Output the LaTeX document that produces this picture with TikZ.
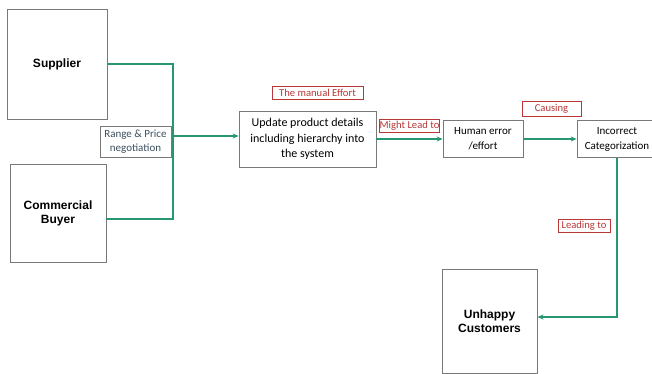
\documentclass[tikz,border=0pt]{standalone}
\usepackage{fontspec}
\setmainfont{Carlito}
\newfontfamily\boxfont{Liberation Sans}
\usetikzlibrary{arrows.meta}
\definecolor{flowgreen}{RGB}{40,150,112}
\definecolor{boxgray}{RGB}{120,120,120}
\definecolor{tagred}{RGB}{185,55,55}
\definecolor{tagslate}{RGB}{60,80,95}
\tikzset{
  actor/.style={draw=boxgray, line width=0.9pt, align=center, inner sep=0pt,
    font=\boxfont\bfseries\fontsize{12}{14}\selectfont},
  stepbox/.style={draw=boxgray, line width=0.7pt, align=center, inner sep=0pt,
    font=\fontsize{11}{15}\selectfont},
  tag/.style={draw=tagred, line width=0.6pt, text=tagred, inner sep=0pt,
    font=\fontsize{10.6}{12}\selectfont},
  note/.style={draw=boxgray, line width=0.6pt, text=tagslate, align=center, inner sep=0pt,
    font=\fontsize{11}{14}\selectfont},
  link/.style={draw=flowgreen, line width=1.8pt},
  flow/.style={link, -{Stealth[length=6pt,width=5pt]}}
}
\begin{document}
\begin{tikzpicture}[x=1pt, y=-1pt]
\useasboundingbox[fill=white] (0,0) rectangle (652,374);

% actors
\node[actor, minimum width=100pt, minimum height=110pt] (supplier) at (57,64) {Supplier};
\node[actor, minimum width=96pt, minimum height=98pt] (buyer) at (58,213) {Commercial\\Buyer};
\node[actor, minimum width=95pt, minimum height=104pt] (unhappy) at (489.5,321) {Unhappy\\Customers};

% process steps
\node[stepbox, minimum width=137pt, minimum height=56pt,
  font=\fontsize{12}{15.5}\selectfont] (update) at (307.5,139)
  {Update product details\\including hierarchy into\\the system};
\node[stepbox, minimum width=80pt, minimum height=37pt] (human) at (483,139) {Human error\\/effort};
\node[stepbox, minimum width=80pt, minimum height=37pt] (incorrect) at (617,139) {Incorrect\\Categorization};

% labels
\node[note, minimum width=71pt, minimum height=31pt] (range) at (135.5,141.5) {Range \& Price\\negotiation};
\node[tag, minimum width=91pt, minimum height=13pt] (manual) at (317.5,92.5) {The manual Effort};
\node[tag, minimum width=60pt, minimum height=13pt] (might) at (409.5,125.5) {Might Lead to};
\node[tag, minimum width=59pt, minimum height=15pt] (causing) at (551.5,108.5) {Causing};
\node[tag, minimum width=52pt, minimum height=13pt] (leading) at (584,225.5) {Leading to};

% connectors
\coordinate (j) at (173,136);
\draw[link] (supplier.east) -| (j) |- ([yshift=-6pt]buyer.east);
\draw[flow] (j) -- (update.west |- j);
\draw[flow] (update.east) -- (human.west);
\draw[flow] (human.east) -- (incorrect.west);
\draw[flow] (incorrect.south) |- ([yshift=4pt]unhappy.east);
\end{tikzpicture}
\end{document}
